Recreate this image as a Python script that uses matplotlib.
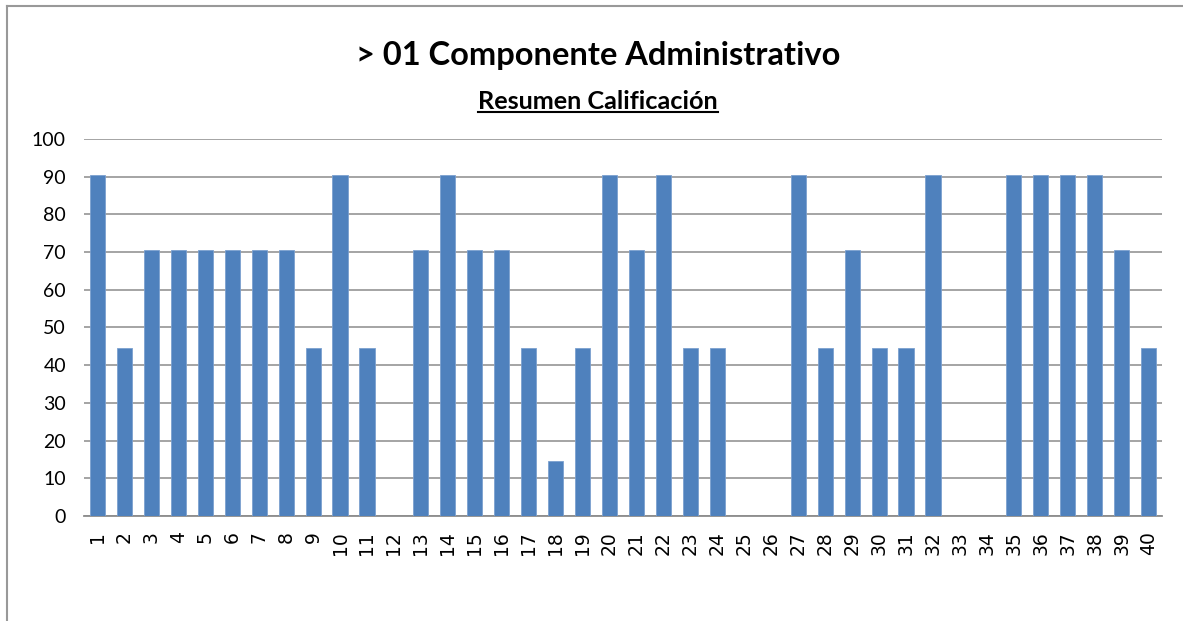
import matplotlib
matplotlib.use("Agg")
import matplotlib.pyplot as plt
from matplotlib.lines import Line2D

# Resumen de calificacion por item
items = [str(i) for i in range(1, 41)]
calificacion = [90.5, 44.5, 70.5, 70.5, 70.5, 70.5, 70.5, 70.5, 44.5, 90.5,
                44.5, 0, 70.5, 90.5, 70.5, 70.5, 44.5, 14.5, 44.5, 90.5,
                70.5, 90.5, 44.5, 44.5, 0, 0, 90.5, 44.5, 70.5, 44.5,
                44.5, 90.5, 0, 0, 90.5, 90.5, 90.5, 90.5, 70.5, 44.5]
yticks = [0, 10, 20, 30, 40, 50, 60, 70, 80, 90, 100]

titulo = "> 01 Componente Administrativo"
subtitulo = "Resumen Calificación"

fig = plt.figure(figsize=(11.83, 6.21), dpi=100)
ax = fig.add_axes([0.0710, 0.1691, 0.9113, 0.6071])

pos = list(range(1, len(items) + 1))
ax.bar(pos, calificacion, width=0.56, color='#4F81BD', edgecolor='#7BA0CF',
       linewidth=0.6, zorder=3)

ax.set_xlim(0.5, len(items) + 0.5)
ax.set_ylim(0, 100)
ax.set_yticks(yticks)
ax.set_xticks(pos)
ax.set_xticklabels(items, rotation=90, fontsize=13.5, family='DejaVu Sans')
ax.set_yticklabels([str(v) for v in yticks], fontsize=14,
                   family=['Lato', 'DejaVu Sans'])
ax.tick_params(axis='x', length=0, pad=11)
ax.tick_params(axis='y', length=0, pad=13)

ax.grid(axis='y', color='#8C8C8C', linewidth=1.1, zorder=0)
for s in ['top', 'right', 'left']:
    ax.spines[s].set_visible(False)
ax.spines['bottom'].set_color('#8C8C8C')
ax.spines['bottom'].set_linewidth(1.3)

fig.text(0.5055, 0.91, titulo, ha='center', va='center', fontsize=23.5,
         fontweight='bold', family=['Lato', 'DejaVu Sans'])
sub = fig.text(0.5055, 0.836, subtitulo, ha='center', va='center', fontsize=18.2,
               fontweight='bold', family=['Lato', 'DejaVu Sans'])

# subrayado del subtitulo
fig.canvas.draw()
bb = sub.get_window_extent().transformed(fig.transFigure.inverted())
fig.add_artist(Line2D([bb.x0, bb.x1], [bb.y0 + 0.002, bb.y0 + 0.002],
                      transform=fig.transFigure, color='black', linewidth=1.5))

# borde del grafico
fig.add_artist(Line2D([0.0063, 0.0063], [0.0, 0.99], transform=fig.transFigure,
                      color='#999999', linewidth=1.5))
fig.add_artist(Line2D([0.0063, 1.0], [0.99, 0.99], transform=fig.transFigure,
                      color='#999999', linewidth=1.5))

fig.savefig("out.png", dpi=100)
